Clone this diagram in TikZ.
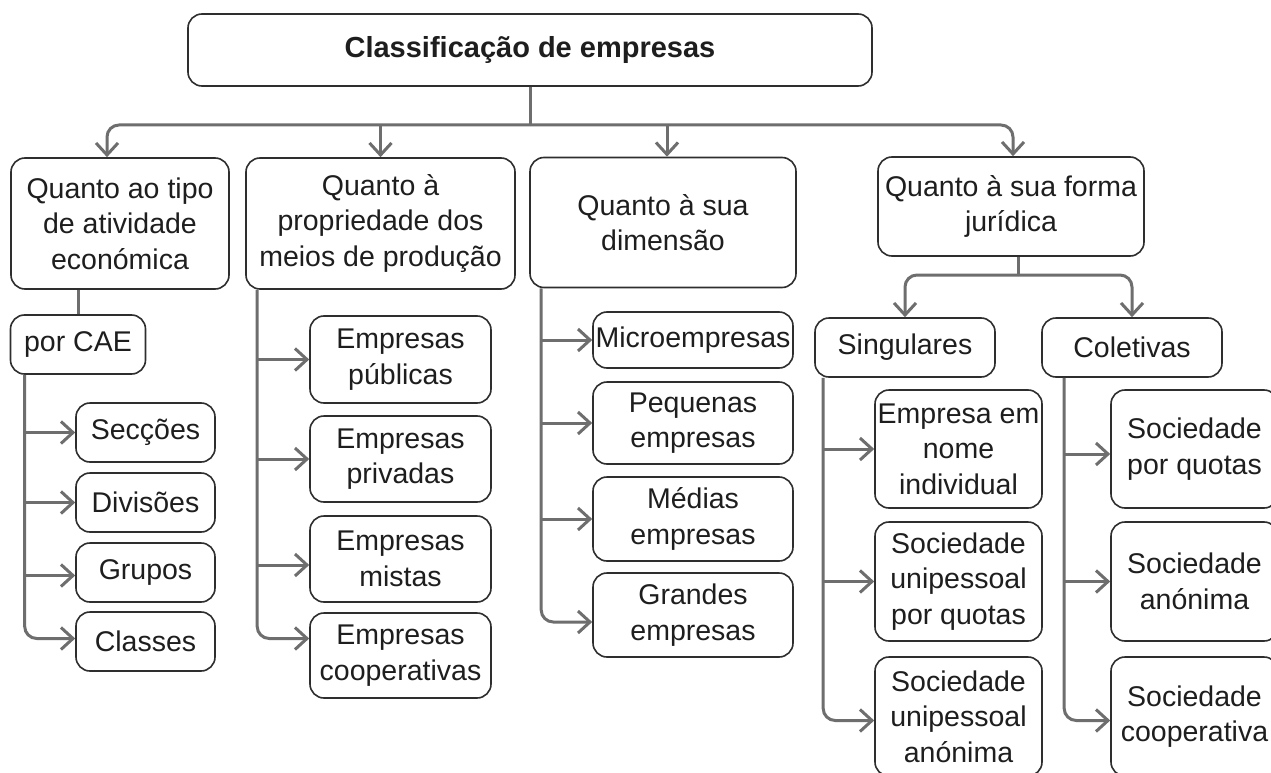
\documentclass[tikz,border=0pt]{standalone}
\usepackage{fontspec}
\setmainfont{Liberation Sans}
\newfontfamily\titlefont{Liberation Sans}
\usetikzlibrary{arrows.meta,calc}
\definecolor{boxline}{HTML}{2E2E2E}
\definecolor{connline}{HTML}{6E6E6E}
\definecolor{txt}{HTML}{1E1E1E}
\begin{document}
\begin{tikzpicture}[x=1pt,y=-1pt,
  bx/.style={draw=boxline, line width=1.6pt, rounded corners=14pt, align=center, inner sep=0pt,
    text=txt, font=\fontsize{28.5}{35.5}\selectfont},
  conn/.style={draw=connline, line width=3pt},
  arr/.style={conn, -{Straight Barb[length=12pt,width=22pt]}},
  rc/.style={rounded corners=12pt}]
\useasboundingbox (0,0) rectangle (1271,773);
\clip (0,0) rectangle (1271,773);
\fill[white] (0,0) rectangle (1271,773);

% top
\node[bx, minimum width=684pt, minimum height=72pt, font=\titlefont\bfseries\fontsize{29}{34}\selectfont] (top) at (530,50) {Classificação de empresas};

% level 1
\node[bx, minimum width=218pt, minimum height=131pt] (c1) at (120,223.5) {Quanto ao tipo\\de atividade\\económica};
\node[bx, minimum width=269pt, minimum height=131pt] (c2) at (380.5,223.5) {Quanto à\\propriedade dos\\meios de produção};
\node[bx, minimum width=266pt, minimum height=130pt] (c3) at (663,222.5) {Quanto à sua\\dimensão};
\node[bx, minimum width=266pt, minimum height=99pt] (c4) at (1011,206.5) {Quanto à sua forma\\jurídica};

% column 1
\node[bx, minimum width=135pt, minimum height=59pt] (cae) at (78,344.5) {por CAE};
\node[bx, minimum width=139pt, minimum height=59pt] (sec) at (145.5,432.5) {Secções};
\node[bx, minimum width=139pt, minimum height=59pt] (div) at (145.5,502.5) {Divisões};
\node[bx, minimum width=139pt, minimum height=59pt] (grp) at (145.5,572.5) {Grupos};
\node[bx, minimum width=139pt, minimum height=59pt] (cls) at (145.5,641.5) {Classes};

% column 2
\node[bx, minimum width=181pt, minimum height=87pt] (pub) at (400.5,359.5) {Empresas\\públicas};
\node[bx, minimum width=181pt, minimum height=86pt] (pri) at (400.5,459) {Empresas\\privadas};
\node[bx, minimum width=181pt, minimum height=86pt] (mis) at (400.5,559) {Empresas\\mistas};
\node[bx, minimum width=181pt, minimum height=85pt] (coo) at (400.5,655.5) {Empresas\\cooperativas};

% column 3
\node[bx, minimum width=200pt, minimum height=56pt] (mic) at (693,340) {Microempresas};
\node[bx, minimum width=200pt, minimum height=82pt] (peq) at (693,423) {Pequenas\\empresas};
\node[bx, minimum width=200pt, minimum height=84pt] (med) at (693,519) {Médias\\empresas};
\node[bx, minimum width=200pt, minimum height=84pt] (gra) at (693,615) {Grandes\\empresas};

% column 4
\node[bx, minimum width=180pt, minimum height=59pt] (sing) at (905,347.5) {Singulares};
\node[bx, minimum width=180pt, minimum height=59pt] (colt) at (1132,347.5) {Coletivas};

\node[bx, minimum width=167pt, minimum height=118pt] (eni) at (958.5,449) {Empresa em\\nome\\individual};
\node[bx, minimum width=167pt, minimum height=119pt] (suq) at (958.5,581.5) {Sociedade\\unipessoal\\por quotas};
\node[bx, minimum width=167pt, minimum height=119pt] (sua) at (958.5,716.5) {Sociedade\\unipessoal\\anónima};

\node[bx, minimum width=167pt, minimum height=118pt] (spq) at (1194.5,449) {Sociedade\\por quotas};
\node[bx, minimum width=167pt, minimum height=119pt] (san) at (1194.5,581.5) {Sociedade\\anónima};
\node[bx, minimum width=167pt, minimum height=119pt] (scp) at (1194.5,716.5) {Sociedade\\cooperativa};

% connectors: top level
\coordinate (hub) at (530,125);
\draw[conn] (top.south) -- (hub);
\draw[arr, rc] (hub) -| ([xshift=-13pt]c1.north);
\draw[arr, rc] (hub) -| ([xshift=2pt]c4.north);
\draw[arr] (c2.north |- hub) -- (c2.north);
\draw[arr] ([xshift=4pt]c3.north |- hub) -- ([xshift=4pt]c3.north);

% column 1
\draw[conn] (cae.north) -- (cae.north |- c1.south);
\coordinate (v1) at ([xshift=15pt]cae.south west);
\draw[arr, rc] (v1) |- ([yshift=3pt]cls.west);
\draw[arr] (v1 |- sec.west) -- (sec.west);
\draw[arr] (v1 |- div.west) -- (div.west);
\draw[arr] ([yshift=-3pt]v1 |- grp.west) -- ([yshift=-3pt]grp.west);

% column 2
\coordinate (v2) at ([xshift=12pt]c2.south west);
\draw[arr, rc] (v2) |- ([yshift=17pt]coo.west);
\draw[arr] (v2 |- pub.west) -- (pub.west);
\draw[arr] (v2 |- pri.west) -- (pri.west);
\draw[arr] ([yshift=-6pt]v2 |- mis.west) -- ([yshift=-6pt]mis.west);

% column 3
\coordinate (v3) at ([xshift=12pt]c3.south west);
\draw[arr, rc] (v3) |- ([yshift=-7pt]gra.west);
\draw[arr] (v3 |- mic.west) -- (mic.west);
\draw[arr] (v3 |- peq.west) -- (peq.west);
\draw[arr] (v3 |- med.west) -- (med.west);

% column 4
\coordinate (hub4) at (1018,275);
\draw[conn] (c4.south -| hub4) -- (hub4);
\draw[arr, rc] (hub4) -| (sing.north);
\draw[arr, rc] (hub4) -| (colt.north);

\coordinate (v4) at ([xshift=9pt]sing.south west);
\draw[arr, rc] (v4) |- ([yshift=-4pt]sua.west);
\draw[arr] (v4 |- eni.west) -- (eni.west);
\draw[arr] (v4 |- suq.west) -- (suq.west);

\coordinate (v5) at ([xshift=23pt]colt.south west);
\draw[arr, rc] (v5) |- ([yshift=-4pt]scp.west);
\draw[arr] ([yshift=-5pt]v5 |- spq.west) -- ([yshift=-5pt]spq.west);
\draw[arr] (v5 |- san.west) -- (san.west);
\end{tikzpicture}
\end{document}
